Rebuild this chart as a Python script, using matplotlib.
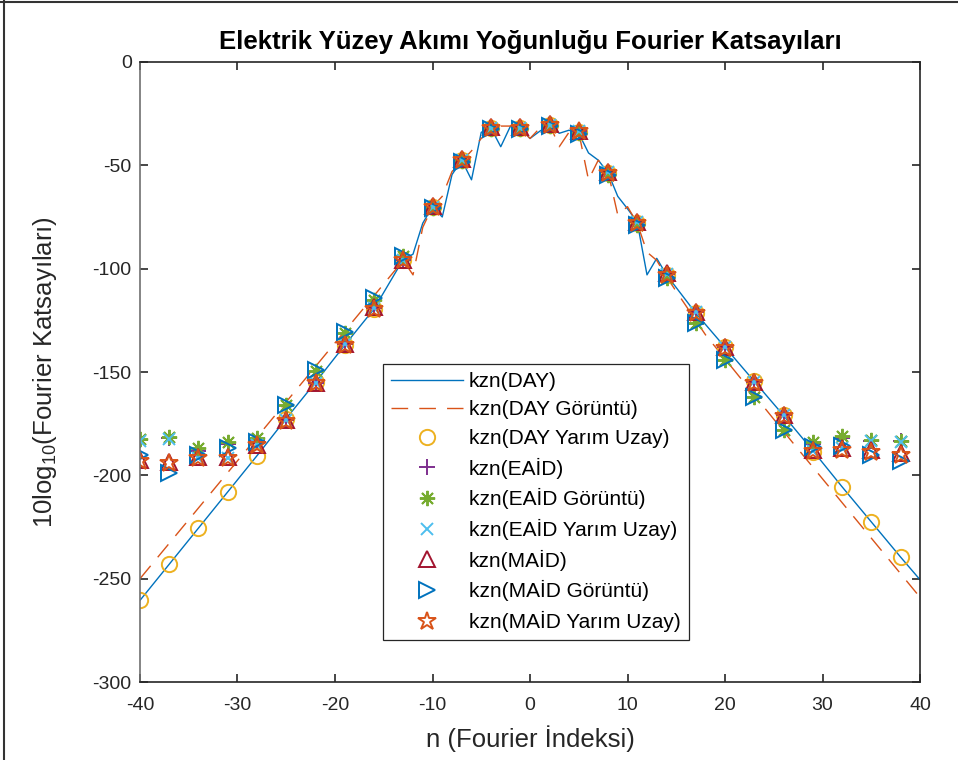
import matplotlib
matplotlib.use("Agg")
import matplotlib.pyplot as plt
from matplotlib.lines import Line2D

# --- data -------------------------------------------------------------------
# Continuous DAY curve (vertices along n)
day_n = [-40, -37, -34, -31, -28, -25, -22, -19, -16, -13, -12, -11, -10, -9, -8, -7, -6, -5,
         -4, -3, -2, -1, 0, 1, 2, 3, 4, 5, 6, 7, 8, 9, 10, 11, 12, 13, 14, 17, 20, 23, 26,
         29, 32, 35, 38, 40]
day_db = [-260.5, -243, -225.5, -208, -190.5, -172.5, -155, -137, -119.5, -95.5, -93, -78,
          -70, -75, -54.5, -47.5, -57, -34, -32, -41, -31, -32, -37, -33.5, -30.5, -34.5,
          -33, -34.5, -44, -47.5, -53.5, -65, -71, -77.5, -103, -95, -103, -121.5, -138,
          -154.5, -171, -188, -205.5, -222.5, -239.5, -250.5]

# DAY image-method curve
dayg_n = [-40, -13, -12, -11, -10, -9, -8, -7, -6, -5, -4, -3, -2, -1, 0, 1, 2, 3, 4, 5, 6,
          7, 8, 9, 10, 11, 12, 13, 14, 18, 27, 40]
dayg_db = [-250, -96, -103, -80, -70, -65, -53, -48, -43, -37, -32, -31, -31, -32, -37, -32,
           -30, -41, -34, -34, -57, -47.5, -53, -74, -70, -78, -92, -96, -104, -132, -184.5,
           -259]

# Sampled harmonics (every third index)
n_mark = list(range(-40, 39, 3))

day_half = [-260.5, -243, -225.5, -208, -190.5, -172.5, -155, -137, -119.5, -96, -70, -47.5,
            -32, -32, -30.5, -34, -53.5, -78, -103, -121.5, -138, -154.5, -171, -188.5,
            -205.5, -222.5, -239.5]
eaid = [-183, -182, -188, -185, -183, -173, -155.5, -136.5, -119, -96, -70, -47.5, -32, -32,
        -30.5, -33.5, -53, -77.5, -102.5, -121, -138, -155, -171, -185, -182, -183.5, -183.5]
eaid_img = [-182.6, -181.6, -187, -183.7, -182, -166, -149.5, -131, -115, -94, -70.5, -48,
            -32.5, -32.5, -31, -34.5, -54.5, -79, -104.5, -126.5, -144, -162, -178, -184,
            -181, -183, -183.5]
eaid_half = [-183.5, -182.5, -191.6, -191.5, -185.5, -173, -155.5, -136.5, -119, -96, -70,
             -47.5, -32, -32, -30.5, -33.5, -53, -77.5, -102.5, -121, -138, -155, -171,
             -188, -187, -183.5, -183.7]
maid = [-192.5, -193.5, -191, -191.3, -185.3, -173, -155.5, -136.5, -118.5, -95.8, -69.5,
        -47, -31.5, -31.5, -30, -33.5, -53, -77.5, -102.3, -120.8, -137.7, -154.7, -170.8,
        -187.7, -187, -187.7, -189.4]
maid_img = [-190, -199, -190, -187, -184, -166, -149, -130.5, -114.4, -94, -70.5, -48.5,
            -32.5, -32.5, -31, -35, -54.5, -79, -104.5, -126.5, -144.2, -162, -178, -186.5,
            -186, -190, -193]
maid_half = [-193, -194, -191.5, -191.5, -185.5, -173.5, -155.5, -137, -119.5, -96, -70,
             -47.5, -32, -32, -30.5, -33.5, -53.5, -78, -103, -121.5, -138.5, -155.5, -171.5,
             -188, -187.5, -188.5, -190]

labels = ["kzn(DAY)", "kzn(DAY Görüntü)", "kzn(DAY Yarım Uzay)", "kzn(EAİD)",
          "kzn(EAİD Görüntü)", "kzn(EAİD Yarım Uzay)", "kzn(MAİD)", "kzn(MAİD Görüntü)",
          "kzn(MAİD Yarım Uzay)"]
x_ticks = [-40, -30, -20, -10, 0, 10, 20, 30, 40]
y_ticks = [-300, -250, -200, -150, -100, -50, 0]

# --- style ------------------------------------------------------------------
plt.rcParams["font.family"] = ["Liberation Sans", "DejaVu Sans"]
plt.rcParams["mathtext.fontset"] = "custom"
plt.rcParams["mathtext.rm"] = "Liberation Sans"
plt.rcParams["mathtext.it"] = "Liberation Sans"

C_BLUE = "#0072BD"
C_ORANGE = "#D95319"
C_YELLOW = "#EDB120"
C_PURPLE = "#7E2F8E"
C_GREEN = "#77AC30"
C_CYAN = "#4DBEEE"
C_RED = "#A2142F"
AX_COL = "#262626"

fig = plt.figure(figsize=(9.58, 7.60), dpi=100)
ax = fig.add_axes([140 / 958, 1 - 682 / 760, 780 / 958, 620 / 760])

ax.plot(day_n, day_db, color=C_BLUE, lw=1.0, label=labels[0])
ax.plot(dayg_n, dayg_db, color=C_ORANGE, lw=1.0, dashes=(12, 8), label=labels[1])

mk = dict(ls="none", mew=1.4)
ax.plot(n_mark, day_half, marker="o", ms=11, mfc="none", mec=C_YELLOW, label=labels[2], **mk)
ax.plot(n_mark, eaid, marker="+", ms=11, mec=C_PURPLE, label=labels[3], **mk)
ax.plot(n_mark, eaid_img, marker=(8, 2, 0), ms=11, mec=C_GREEN, label=labels[4], **mk)
ax.plot(n_mark, eaid_half, marker="x", ms=8, mec=C_CYAN, label=labels[5], **mk)
ax.plot(n_mark, maid, marker="^", ms=11.5, mfc="none", mec=C_RED, label=labels[6], **mk)
ax.plot(n_mark, maid_img, marker=">", ms=11.5, mfc="none", mec=C_BLUE, label=labels[7], **mk)
ax.plot(n_mark, maid_half, marker="*", ms=13.5, mfc="none", mec=C_ORANGE, label=labels[8], **mk)

ax.set_xlim(-40, 40)
ax.set_ylim(-300, 0)
ax.set_xticks(x_ticks)
ax.set_yticks(y_ticks)
ax.set_xticklabels([str(v) for v in x_ticks])
ax.set_yticklabels([str(v) for v in y_ticks])
ax.tick_params(direction="in", length=6, width=1.2, colors=AX_COL, labelsize=14,
               top=True, right=True)
ax.tick_params(axis="x", pad=11)
ax.tick_params(axis="y", pad=6)
for side, sp in ax.spines.items():
    sp.set_color(AX_COL)
    sp.set_linewidth(1.2)
ax.spines["left"].set_color("#707070")

fig.text(530 / 958, 1 - 42 / 760, "Elektrik Yüzey Akımı Yoğunluğu Fourier Katsayıları",
         fontsize=18.5, fontweight="bold", color="black", ha="center", va="center")
ax.set_xlabel("n (Fourier İndeksi)", fontsize=18.5, color=AX_COL)
ax.xaxis.set_label_coords(0.5, -0.07)
ax.set_ylabel(r"10log$_{10}$(Fourier Katsayıları)", fontsize=18.5, color=AX_COL)
ax.yaxis.set_label_coords(-0.104, 0.5)

leg = ax.legend(loc="upper left", bbox_to_anchor=(0.3115, 0.513), borderaxespad=0,
                fancybox=False, framealpha=1, edgecolor=AX_COL, handlelength=3.45,
                handletextpad=0.3, labelspacing=0.46, borderpad=0.38,
                prop={"size": 15})
leg.get_frame().set_linewidth(0.9)

# thin frame around the figure (left and top edges)
fig.add_artist(Line2D([4 / 958, 4 / 958], [0, 1], color="#333333", lw=1.5))
fig.add_artist(Line2D([0, 1], [1 - 2 / 760, 1 - 2 / 760], color="#333333", lw=1.5))

fig.savefig("out.png", dpi=100)
